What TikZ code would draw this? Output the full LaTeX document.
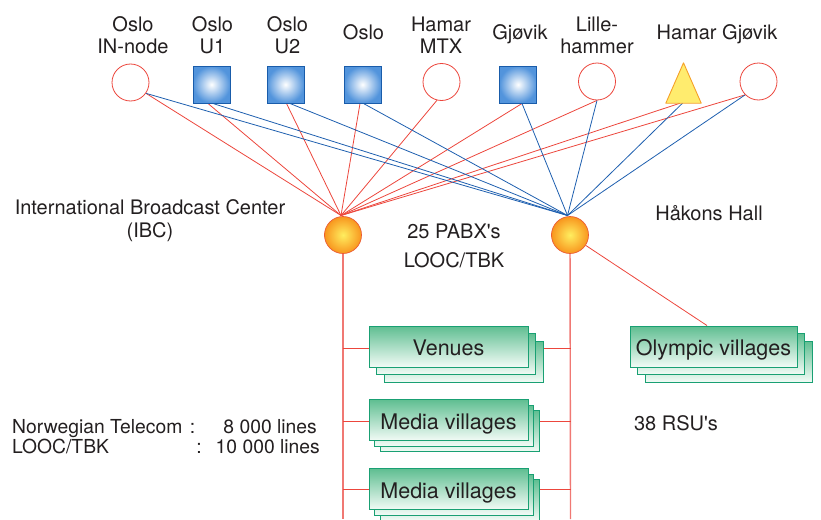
\documentclass[tikz,border=0pt]{standalone}
\usepackage{fontspec}
\setmainfont{TeX Gyre Heros}
\newfontfamily\plainhv{TeX Gyre Heros}
\usetikzlibrary{backgrounds,calc}

\definecolor{txt}{RGB}{35,31,32}
\definecolor{linkred}{RGB}{236,70,60}
\definecolor{trunkred}{RGB}{240,120,115}
\definecolor{linkblue}{RGB}{30,95,175}
\definecolor{sqblue}{RGB}{82,148,220}
\definecolor{sqedge}{RGB}{25,92,170}
\definecolor{hubin}{RGB}{255,238,95}
\definecolor{hubout}{RGB}{248,150,30}
\definecolor{hubedge}{RGB}{235,90,50}
\definecolor{trifill}{RGB}{255,236,110}
\definecolor{triedge}{RGB}{245,160,40}
\definecolor{boxtop}{RGB}{95,190,145}
\definecolor{boxbot}{RGB}{242,251,246}
\definecolor{boxedge}{RGB}{25,160,115}

% stacked box: name, x, y, width, offset, text
\newcommand\stackbox[6]{%
  \node[gbox, minimum width=#4pt] (#1-b2) at (#2+2*#5, #3+2*#5) {};
  \node[gbox, minimum width=#4pt] (#1-b1) at (#2+#5, #3+#5) {};
  \node[gbox, minimum width=#4pt] (#1) at (#2, #3) {#6};
}

\begin{document}
\begin{tikzpicture}[x=1pt,y=-1pt,
  lbl/.style={anchor=base, inner sep=0pt, text=txt, font=\fontsize{20}{21}\selectfont},
  note/.style={lbl, font=\fontsize{19.3}{21}\selectfont},
  site/.style={circle, draw=linkred, line width=0.8pt, fill=white, minimum size=37pt, inner sep=0pt},
  pabx/.style={rectangle, draw=sqedge, line width=1pt, inner color=white, outer color=sqblue, minimum size=37pt, inner sep=0pt},
  hub/.style={circle, draw=hubedge, line width=0.7pt, inner color=hubin, outer color=hubout, minimum size=37pt, inner sep=0pt},
  rlink/.style={draw=linkred, line width=0.8pt},
  blink/.style={draw=linkblue, line width=0.8pt},
  trunk/.style={draw=trunkred, line width=1.4pt},
  gbox/.style={rectangle, draw=boxedge, line width=0.9pt, top color=boxtop, bottom color=boxbot, minimum height=41pt, inner sep=0pt, text=txt, font=\fontsize{21.5}{24}\selectfont, text height=18.4pt, text depth=0pt},
]
\useasboundingbox (0,0) rectangle (821,519);

% ---- top row: sites and exchanges ----
\node[site] (in) at (130.5,82.5) {};
\node[pabx] (u1) at (211.5,84.5) {};
\node[pabx] (u2) at (285.5,84.5) {};
\node[pabx] (os) at (362.5,84.5) {};
\node[site] (hm) at (441.5,82) {};
\node[pabx] (gj) at (518,84.5) {};
\node[site] (li) at (597,81.5) {};
\node[inner sep=0pt, minimum width=35pt, minimum height=40pt] (tri) at (683.5,83) {};
\filldraw[fill=trifill, draw=triedge, line width=0.9pt, line join=round]
  (tri.south west) -- (tri.south east) -- (tri.north) -- cycle;
\node[site] (hg) at (758.5,81.5) {};

% ---- top labels ----
\node[lbl] (t-in1) at (133,31.5) {Oslo};
\node[lbl] (t-in2) at (133,53) {IN-node};
\node[lbl] (t-u1a) at (212.5,31.5) {Oslo};
\node[lbl] (t-u1b) at (212.5,53) {U1};
\node[lbl] (t-u2a) at (287.5,31.5) {Oslo};
\node[lbl] (t-u2b) at (287.5,53) {U2};
\node[lbl] (t-os) at (363.5,39.5) {Oslo};
\node[lbl] (t-hma) at (441,31.5) {Hamar};
\node[lbl] (t-hmb) at (441,53) {MTX};
\node[lbl] (t-gj) at (520,40) {Gjøvik};
\node[lbl] (t-lia) at (597,31.5) {Lille-};
\node[lbl] (t-lib) at (597,53) {hammer};
\node[lbl] (t-hg) at (717,40) {Hamar Gjøvik};

% ---- exchanges ----
\node[hub] (lhub) at (343,235) {};
\node[hub] (rhub) at (570,235) {};
\coordinate (lc) at (341,215.5);
\coordinate (rc) at (567.5,215.5);

\node[lbl] (ibc1) at (150,214) {International Broadcast Center};
\node[lbl] (ibc2) at (150,237.5) {(IBC)};
\node[lbl] (pabx1) at (454,238) {25 PABX{\plainhv '}s};
\node[lbl] (pabx2) at (454,267) {LOOC/TBK};
\node[lbl] (hh) at (709,220) {Håkons Hall};

% ---- served locations ----
\stackbox{ven}{448.5}{346.5}{159}{7.5}{Venues}
\stackbox{mv1}{448.5}{420}{159}{5.5}{Media villages}
\stackbox{mv2}{448.5}{489}{159}{5.5}{Media villages}
\stackbox{ov}{713.5}{346.5}{167}{7.5}{Olympic villages}

\node[lbl] (rsu) at (676,430) {38 RSU{\plainhv '}s};
\node[note, anchor=base west] (nt1) at (12,433) {Norwegian Telecom};
\node[note] (nt1c) at (192.5,433) {:};
\node[note, anchor=base east] (nt1n) at (317,433) {8 000 lines};
\node[note, anchor=base west] (nt2) at (12,453) {LOOC/TBK};
\node[note] (nt2c) at (199,453) {:};
\node[note, anchor=base east] (nt2n) at (320,453) {10 000 lines};

\coordinate (lbot) at (343,519);
\coordinate (rbot) at (570.5,519);
\coordinate (lv1) at (343,348);
\coordinate (rv1) at (570.5,348);
\coordinate (lv2) at (343,421);
\coordinate (rv2) at (570.5,421);
\coordinate (lv3) at (343,489);
\coordinate (rv3) at (570.5,489);

\begin{pgfonlayer}{background}
  % links to the IBC exchange
  \draw[rlink] (in.-35) -- (lc);
  \draw[rlink] ($(u1.south)+(-3.5,0)$) -- (lc);
  \draw[rlink] ($(u2.south)+(1,0)$) -- (lc);
  \draw[rlink] ($(os.south)+(-2.5,0)$) -- (lc);
  \draw[rlink] (hm.-104) -- (lc);
  \draw[rlink] ($(gj.south)+(4,0)$) -- (lc);
  \draw[rlink] (li.south) -- (lc);
  \draw[rlink] ($(tri.south)+(-3.5,0)$) -- (lc);
  \draw[rlink] (hg.-135) -- (lc);
  % links to the Haakons Hall exchange
  \draw[blink] (in.-35) -- (rc);
  \draw[blink] ($(u1.south)+(1.5,0)$) -- (rc);
  \draw[blink] ($(u2.south)+(4.5,0)$) -- (rc);
  \draw[blink] ($(os.south)+(1,0)$) -- (rc);
  \draw[blink] ($(gj.south)+(4,0)$) -- (rc);
  \draw[blink] (li.south) -- (rc);
  \draw[blink] ($(tri.south)+(-1,0)$) -- (rc);
  \draw[blink] (hg.-135) -- (rc);
  % distribution trunks
  \draw[trunk] (lhub) -- (lbot);
  \draw[trunk] (rhub) -- (rbot);
  \draw[rlink] (lv1) -- (rv1);
  \draw[rlink] (lv2) -- (rv2);
  \draw[rlink] (lv3) -- (rv3);
  \draw[rlink] (rhub) -- ($(ov.north)+(-6.5,0)$);
\end{pgfonlayer}
\end{tikzpicture}
\end{document}
